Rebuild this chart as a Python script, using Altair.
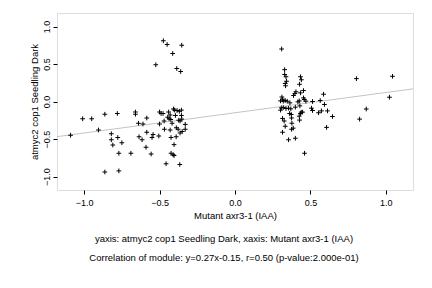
import altair as alt
import pandas as pd

x_vals = [-1.09,-1.01,-0.95,-0.905,-0.863,-0.863,-0.82,-0.82,-0.81,-0.78,-0.777,-0.77,-0.77,-0.75,-0.69,
          -0.66,-0.66,-0.64,-0.636,-0.616,-0.61,-0.585,-0.59,-0.585,-0.556,-0.55,-0.543,-0.525,-0.505,-0.5,
          -0.5,-0.49,-0.477,-0.475,-0.47,-0.468,-0.45,-0.457,-0.446,-0.44,-0.437,-0.43,-0.43,-0.426,-0.424,
          -0.424,-0.417,-0.413,-0.41,-0.408,-0.404,-0.404,-0.40,-0.395,-0.389,-0.386,-0.39,-0.384,-0.377,-0.373,
          -0.369,-0.366,-0.36,-0.364,-0.364,-0.353,-0.355,-0.355,-0.353,-0.35,-0.33,-0.33,
          0.309,0.329,0.329,0.338,0.342,0.333,0.335,0.434,0.44,0.428,0.454,0.404,0.397,0.434,0.388,0.587,
          0.805,1.044,1.024,0.87,0.826,0.311,0.315,0.302,0.32,0.333,0.346,0.364,0.417,0.426,0.459,0.454,
          0.47,0.514,0.565,0.593,0.40,0.43,0.307,0.32,0.338,0.355,0.37,0.507,0.514,0.573,0.554,0.613,0.646,
          0.302,0.362,0.373,0.439,0.434,0.448,0.426,0.375,0.315,0.326,0.428,0.333,0.377,0.375,0.386,0.607,
          0.315,0.40,0.355,0.461]
y_vals = [-0.45,-0.23,-0.23,-0.38,-0.17,-0.94,-0.43,-0.51,-0.58,-0.16,-0.48,-0.69,-0.925,-0.55,-0.69,
          -0.14,-0.17,-0.29,-0.47,-0.51,-0.30,-0.22,-0.61,-0.41,-0.70,-0.48,-0.44,0.49,-0.46,-0.30,
          -0.14,-0.16,-0.16,0.81,-0.26,-0.37,0.76,-0.83,-0.21,-0.14,-0.23,-0.18,-0.38,-0.24,-0.69,
          -0.48,-0.29,0.64,-0.71,-0.10,-0.575,-0.72,-0.115,-0.186,-0.35,0.44,-0.47,-0.12,-0.37,-0.25,
          -0.13,-0.84,0.40,-0.26,-0.42,0.75,-0.115,-0.186,-0.235,-0.40,-0.305,-0.37,
          0.70,0.425,0.36,0.33,0.27,0.24,0.21,0.33,0.29,0.23,0.146,0.13,0.106,0.115,0.08,0.097,
          0.305,0.336,0.057,-0.10,-0.235,0.06,0.03,0.008,0.004,0.013,0.004,-0.018,-0.005,0.008,0.027,0.048,
          0.004,0.0,0.013,-0.04,-0.076,-0.058,-0.085,-0.08,-0.093,-0.089,-0.098,-0.089,-0.12,-0.125,-0.15,-0.125,-0.2,
          -0.115,-0.16,-0.173,-0.142,-0.16,-0.142,-0.195,-0.22,-0.226,-0.26,-0.248,-0.33,-0.29,-0.37,-0.355,-0.345,
          -0.41,-0.49,-0.51,-0.69]

slope = 0.27
intercept = -0.15
x_domain = [-1.18, 1.18]
y_domain = [-1.18, 1.18]
ticks = [-1.0, -0.5, 0.0, 0.5, 1.0]
caption_lines = ["yaxis: atmyc2 cop1 Seedling Dark, xaxis: Mutant axr3-1 (IAA)",
                 "Correlation of module: y=0.27x-0.15, r=0.50 (p-value:2.000e-01)"]

pts = pd.DataFrame({"x": x_vals, "y": y_vals})
line_df = pd.DataFrame({"x": x_domain, "y": [slope * v + intercept for v in x_domain]})

FONT = "Liberation Sans"
xs = alt.Scale(domain=x_domain, nice=False, zero=False)
ys = alt.Scale(domain=y_domain, nice=False, zero=False)
xaxis = alt.Axis(values=ticks, format=".1f", title="Mutant axr3-1 (IAA)", grid=False, domain=False,
                 tickColor="black", tickSize=4, labelFontSize=9, titleFontSize=9.5, labelColor="black",
                 titleColor="black", titleFontWeight="normal", labelPadding=4, titlePadding=3,
                 labelFont=FONT, titleFont=FONT)
yaxis = alt.Axis(values=ticks, format=".1f", title="atmyc2 cop1 Seedling Dark", grid=False, domain=False,
                 tickColor="black", tickSize=4, labelFontSize=9, titleFontSize=9.5, labelColor="black",
                 titleColor="black", titleFontWeight="normal", labelAngle=270, labelAlign="center",
                 labelBaseline="bottom", labelPadding=2, titlePadding=3, labelFont=FONT, titleFont=FONT)

line = alt.Chart(line_df).mark_line(color="#c4c4c4", strokeWidth=1, clip=True).encode(
    x=alt.X("x:Q", scale=xs, axis=xaxis), y=alt.Y("y:Q", scale=ys, axis=yaxis))

points = alt.Chart(pts).mark_point(shape="M-1,0L1,0M0,-1L0,1", size=22, filled=False,
                                   color="black", strokeWidth=1, opacity=1).encode(
    x=alt.X("x:Q", scale=xs), y=alt.Y("y:Q", scale=ys))

cap_df = pd.DataFrame({"t": caption_lines, "yy": [226, 245]})
caption = alt.Chart(cap_df).mark_text(font=FONT, fontSize=9.5, color="black", align="center").encode(
    text="t:N", x=alt.value(167), y=alt.Y("yy:Q", scale=None))

chart = alt.layer(line, points, caption).properties(
    width=356, height=177,
    padding={"left": 57, "top": 13, "right": 19, "bottom": 98},
    autosize=alt.AutoSizeParams(type="none"),
).configure_view(stroke="#333333", strokeWidth=1).configure(background="white")

chart.save("out.html", embed_options={"renderer": "svg", "actions": False})
